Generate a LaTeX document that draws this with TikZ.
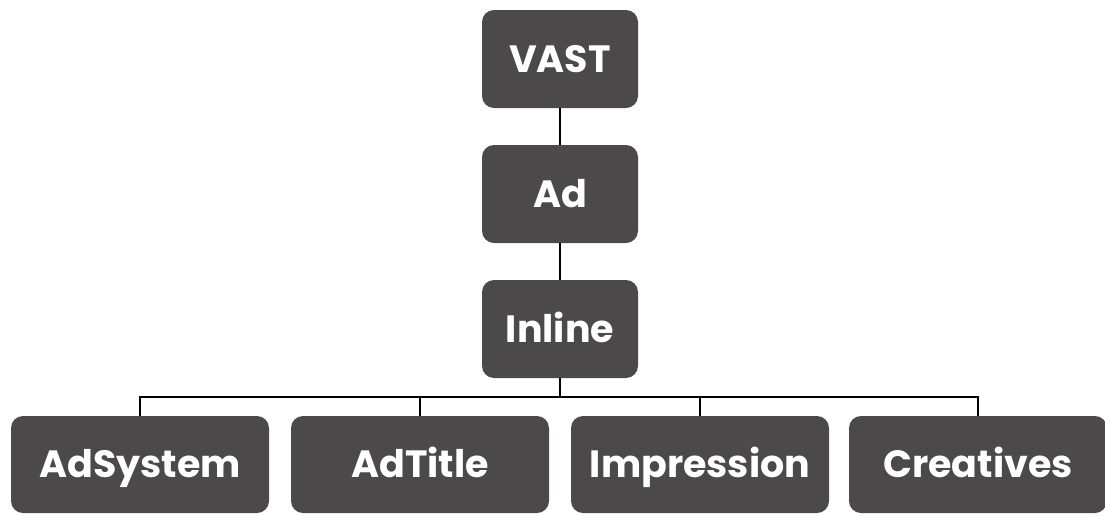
\documentclass[tikz,border=0pt]{standalone}
\usepackage{tikz, fontspec}
\usetikzlibrary{shapes, arrows, positioning, calc}
\setmainfont{Poppins}
\definecolor{boxgray}{HTML}{4B4949}

\begin{document}
\begin{tikzpicture}[node distance=67.5pt]
        \useasboundingbox (0,0) rectangle (552.5pt,-257.5pt);
        \tikzset{
            tag/.style={rectangle, rounded corners=6pt, fill=boxgray, text=white, inner sep=0pt,
                font=\fontsize{19}{23}\selectfont\bfseries, text height=13.3pt, text depth=0pt,
                minimum width=78pt, minimum height=49pt},
            leaf/.style={tag, minimum width=129pt, minimum height=48.5pt}
        }
        \node[tag] (vast) at (280pt,-29.5pt) {VAST};
        \node[tag, below of=vast] (ad) {Ad};
        \node[tag, below of=ad] (inline) {Inline};

        \node[leaf] (adsystem) at (70pt,-232.25pt) {AdSystem};
        \node[leaf, right of=adsystem, node distance=140pt] (adtitle) {AdTitle};
        \node[leaf, right of=adtitle, node distance=140pt] (impression) {Impression};
        \node[leaf, right of=impression, node distance=139pt] (creatives) {Creatives};

        \coordinate (bus) at ($(inline.south)!0.5!(inline.south |- adsystem.north)$);

        \draw[line width=1pt] (vast) -- (ad);
        \draw[line width=1pt] (ad) -- (inline);
        \draw[line width=1pt] (inline.south) -- (bus);
        \draw[line width=1pt] (bus) -| (adsystem.north);
        \draw[line width=1pt] (bus) -| (adtitle.north);
        \draw[line width=1pt] (bus) -| (impression.north);
        \draw[line width=1pt] (bus) -| (creatives.north);
    \end{tikzpicture}
\end{document}
